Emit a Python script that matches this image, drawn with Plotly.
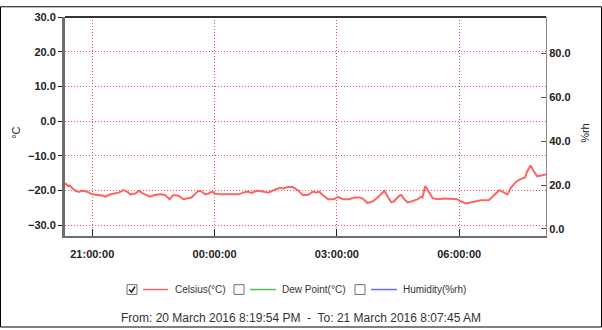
import plotly.graph_objects as go
import pandas as pd

# ---- data ----
times = ["20:19:54","20:24:00","20:27:00","20:30:00","20:35:00","20:40:00","20:45:00","20:52:00",
         "21:00:00","21:07:00","21:17:00","21:19:00","21:24:00","21:31:00","21:39:00","21:46:00",
         "21:51:00","21:56:00","22:03:00","22:09:00","22:15:00","22:25:00","22:32:00","22:40:00",
         "22:47:00","22:54:00","22:59:00","23:07:00","23:14:00","23:21:00","23:26:00","23:31:00",
         "23:36:00","23:41:00","23:46:00","23:51:00","23:56:00","00:00:30","00:08:00","00:20:00",
         "00:35:00","00:42:00","00:49:00","00:54:00","01:02:00","01:11:00","01:19:00","01:26:00",
         "01:36:00","01:41:00","01:48:00","01:55:00","02:03:00","02:10:00","02:17:00","02:25:00",
         "02:30:00","02:34:00","02:39:00","02:47:00","02:56:00","03:01:00","03:09:00","03:18:00",
         "03:26:00","03:33:00","03:38:00","03:45:00","03:53:00","04:00:00","04:10:00","04:15:00",
         "04:20:00","04:24:00","04:32:00","04:35:00","04:39:00","04:44:00","04:51:00","04:59:00",
         "05:04:00","05:06:00","05:10:00","05:16:00","05:21:00","05:28:00","05:38:00","05:57:00",
         "06:02:00","06:10:00","06:17:00","06:24:00","06:32:00","06:44:00","06:51:00","06:59:00",
         "07:06:00","07:11:00","07:16:00","07:23:00","07:30:00","07:37:00","07:40:00","07:45:00",
         "07:50:00","07:55:00","08:02:00","08:07:45"]
celsius = [-17.8,-18.7,-18.5,-19.2,-20.0,-20.4,-20.1,-20.3,
           -21.1,-21.3,-21.5,-21.8,-21.3,-20.9,-20.6,-19.9,
           -20.3,-21.1,-20.9,-20.1,-20.9,-21.8,-21.3,-21.1,
           -21.3,-22.5,-21.3,-21.5,-22.5,-22.2,-22.0,-21.1,
           -20.1,-20.3,-21.1,-20.9,-20.3,-20.9,-21.1,-21.1,
           -21.1,-20.6,-20.3,-20.7,-20.1,-20.3,-20.6,-20.0,
           -19.2,-19.4,-19.0,-19.0,-20.0,-21.3,-21.3,-20.3,
           -20.6,-20.3,-21.3,-22.5,-22.5,-21.8,-22.5,-22.5,
           -22.0,-22.0,-22.3,-23.6,-23.1,-22.0,-20.1,-21.8,
           -23.4,-23.1,-21.5,-21.3,-22.5,-23.4,-23.1,-22.5,
           -21.8,-22.0,-18.7,-20.6,-22.2,-22.5,-22.3,-22.5,
           -23.1,-23.7,-23.4,-23.1,-22.8,-22.7,-21.3,-19.9,
           -20.6,-21.1,-19.2,-17.6,-16.7,-16.2,-14.5,-12.8,
           -14.5,-15.9,-15.6,-15.4]
x_ticks = ["2016-03-20 21:00:00","2016-03-21 00:00:00","2016-03-21 03:00:00","2016-03-21 06:00:00"]
x_range = ["2016-03-20 20:19:54","2016-03-21 08:07:45"]
y_left_ticks = [-30, -20, -10, 0, 10, 20, 30]
y_right_ticks = [0, 20, 40, 60, 80]
series_names = ["Celsius(°C)", "Dew Point(°C)", "Humidity(%rh)"]
series_colors = ["#ff6464", "#5cb85c", "#6a6aff"]
series_checked = [True, False, False]
footer = "From: 20 March 2016 8:19:54 PM  -  To: 21 March 2016 8:07:45 AM"

dates = [("2016-03-20 " if int(t[:2]) >= 20 else "2016-03-21 ") + t for t in times]
xs = pd.to_datetime(dates)

W, H = 602, 330
L, R, T, B = 65, 546, 11, 236

def px(x):
    return (x - L) / (R - L)

def py(y):
    return (B - y) / (B - T)

fig = go.Figure()
fig.add_trace(go.Scatter(x=xs, y=celsius, mode="lines",
                         line=dict(color=series_colors[0], width=2),
                         showlegend=False, hoverinfo="skip"))
# invisible trace to activate the right axis
fig.add_trace(go.Scatter(x=[xs[0]], y=[None], yaxis="y2", showlegend=False, hoverinfo="skip"))

grid_col = "#e05a5a"
grid_dash = "1px,2px"
tickfont = dict(family="Arial", size=11, color="#222222", weight="bold")
fig.update_layout(
    width=W, height=H,
    margin=dict(l=L, r=W - R, t=T, b=H - B, pad=0),
    paper_bgcolor="white", plot_bgcolor="white",
    showlegend=False,
    xaxis=dict(type="date", range=x_range, tickvals=x_ticks, tickformat="%H:%M:%S",
               showgrid=True, gridcolor=grid_col, griddash=grid_dash, gridwidth=1,
               showline=True, linecolor="#6e6e6e", linewidth=2,
               ticks="inside", ticklen=7, tickcolor="#222222", tickwidth=1,
               ticklabelstandoff=7,
               tickfont=tickfont, zeroline=False),
    yaxis=dict(range=[-33.1, 30], tickvals=y_left_ticks, tickformat=".1f",
               showgrid=True, gridcolor=grid_col, griddash=grid_dash, gridwidth=1,
               showline=True, linecolor="#6e6e6e", linewidth=3,
               ticks="outside", ticklen=4, tickcolor="#222222",
               tickfont=tickfont, zeroline=False),
    yaxis2=dict(range=[-3.2, 96.5], tickvals=y_right_ticks, tickformat=".1f",
                overlaying="y", side="right", showgrid=False,
                showline=True, linecolor="#8a8a8a", linewidth=1,
                ticks="inside", ticklen=5, tickcolor="#555555",
                tickfont=dict(family="Arial", size=11, color="#222222", weight="bold"),
                zeroline=False),
)

shapes = []
# top border of plot
shapes.append(dict(type="line", xref="paper", yref="paper", x0=0, x1=1, y0=1, y1=1,
                   line=dict(color="#333333", width=2)))
# outer frame of image
shapes.append(dict(type="rect", xref="paper", yref="paper",
                   x0=px(0.5), x1=px(W - 0.5), y0=py(H - 0.5), y1=py(0.5),
                   line=dict(color="#000000", width=1)))

annotations = []
annotations.append(dict(text="°C", x=px(8), y=py(130), xref="paper", yref="paper",
                        showarrow=False, textangle=-90,
                        font=dict(family="Arial", size=11, color="#222222")))
annotations.append(dict(text="%rh", x=px(593), y=py(130), xref="paper", yref="paper",
                        showarrow=False, textangle=-90,
                        font=dict(family="Arial", size=11, color="#222222")))

# legend (drawn)
box_x = [127, 234, 355]
line_x = [(143, 168), (250, 276), (371, 397)]
text_x = [173, 280, 401]
leg_y = 291
for i, name in enumerate(series_names):
    bx = box_x[i]
    shapes.append(dict(type="rect", xref="paper", yref="paper",
                       x0=px(bx), x1=px(bx + 10), y0=py(leg_y + 5), y1=py(leg_y - 5),
                       line=dict(color="#707070", width=1), fillcolor="white"))
    if series_checked[i]:
        path = "M {} {} L {} {} L {} {}".format(px(bx + 2), py(leg_y), px(bx + 4.5), py(leg_y + 2.5),
                                               px(bx + 8), py(leg_y - 3))
        shapes.append(dict(type="path", xref="paper", yref="paper", path=path,
                           line=dict(color="#222222", width=1.6)))
    x0, x1 = line_x[i]
    shapes.append(dict(type="line", xref="paper", yref="paper",
                       x0=px(x0), x1=px(x1), y0=py(leg_y), y1=py(leg_y),
                       line=dict(color=series_colors[i], width=1.5)))
    annotations.append(dict(text=name, x=px(text_x[i]), y=py(leg_y), xref="paper", yref="paper",
                            xanchor="left", yanchor="middle", showarrow=False,
                            font=dict(family="Arial", size=10, color="#333333")))

annotations.append(dict(text=footer, x=px(301), y=py(320), xref="paper", yref="paper",
                        xanchor="center", yanchor="middle", showarrow=False,
                        font=dict(family="Arial", size=12, color="#333333")))

fig.update_layout(shapes=shapes, annotations=annotations)
fig.write_html("out.html")
